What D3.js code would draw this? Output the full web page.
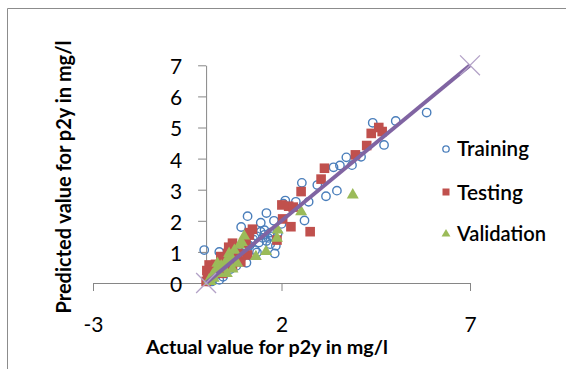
<!DOCTYPE html>
<html>
<head>
<meta charset="utf-8">
<script src="https://cdn.jsdelivr.net/npm/d3@7/dist/d3.min.js"></script>
<style>
  html, body { margin: 0; padding: 0; background: #fff; }
  svg { display: block; }
  text { font-family: Lato, "Open Sans", "Liberation Sans", sans-serif; fill: #000; }
</style>
</head>
<body>
<svg id="chart" width="566" height="369"></svg>
<script>
// Observed vs predicted p2y concentrations (mg/l), per data split
const training = [
  [5.85, 5.48], [5.03, 5.21], [4.42, 5.15], [4.72, 4.44], [4.11, 4.06],
  [3.87, 3.79], [3.72, 4.04], [3.55, 3.78], [3.38, 3.72], [3.47, 2.97],
  [3.18, 2.79], [2.95, 3.15], [2.72, 2.61], [2.54, 3.22], [2.61, 2.01],
  [2.38, 2.61], [2.10, 2.65], [2.05, 2.55], [1.80, 2.00], [1.60, 2.25],
  [1.45, 1.94], [1.10, 2.15], [0.93, 1.80],
  [1.82, 0.95], [1.85, 1.20], [1.75, 1.50], [1.70, 1.62], [1.55, 1.55],
  [1.50, 1.45], [1.45, 1.65], [1.60, 1.35], [1.65, 1.45], [1.40, 1.30],
  [1.55, 1.70], [1.35, 1.50], [1.25, 1.40], [1.20, 1.30], [1.30, 1.05],
  [1.35, 0.98], [1.15, 1.20], [1.05, 1.15], [0.97, 0.85], [1.07, 0.65],
  [0.90, 1.00], [0.85, 1.10], [1.70, 1.25], [1.90, 1.60], [2.00, 1.90],
  [-0.05, 1.06], [0.35, 1.00], [0.40, 0.70], [0.55, 0.62], [0.60, 0.90],
  [0.75, 0.75], [0.50, 0.40], [0.30, 0.30], [0.20, 0.15], [0.10, 0.25],
  [0.05, 0.05], [0.25, 0.50], [0.65, 0.45], [0.80, 0.55], [0.45, 0.20],
  [0.15, 0.05], [0.70, 1.00], [0.35, 0.10]
];
const testing = [
  [4.58, 5.00], [4.38, 4.81], [4.67, 4.87], [4.26, 4.42], [3.96, 4.12],
  [3.14, 3.69], [3.05, 3.34], [2.52, 2.94], [2.01, 2.51], [2.19, 2.47],
  [2.31, 2.44], [2.03, 2.06], [2.25, 1.81], [2.76, 1.65], [1.88, 1.38],
  [1.23, 1.73], [1.14, 1.54], [1.15, 1.62], [0.70, 1.28], [1.06, 1.28],
  [1.10, 0.90], [0.57, 0.95], [0.39, 0.85], [0.08, 0.58], [0.04, 0.20],
  [0.00, 0.05], [0.92, 0.68], [0.43, 0.31], [0.70, 0.52], [0.25, 0.60],
  [0.60, 1.15], [0.85, 0.95], [0.20, 0.35], [0.50, 0.75], [0.02, 0.40]
];
const validation = [
  [3.89, 2.83], [2.52, 2.29], [1.90, 1.70], [1.88, 1.44], [1.59, 1.01],
  [1.32, 0.85], [1.01, 1.51], [0.88, 1.22], [0.83, 0.63], [0.52, 0.68],
  [0.30, 0.63], [0.26, 0.42], [0.17, 0.26], [0.08, 0.10], [0.61, 0.95],
  [0.48, 0.47], [0.75, 1.05], [0.95, 1.30], [0.65, 0.80], [0.40, 0.55],
  [0.35, 0.30], [0.20, 0.15], [0.55, 0.30], [0.70, 0.45], [0.12, 0.05]
];
// 1:1 reference line end points
const idealLine = [[0, 0], [7, 7]];

const xTicks = [-3, 2, 7];
const yTicks = [0, 1, 2, 3, 4, 5, 6, 7];
const seriesNames = ["Training", "Testing", "Validation"];
const xTitle = "Actual value for p2y in mg/l";
const yTitle = "Predicted value for p2y in mg/l";

const svg = d3.select("#chart");
const W = 566, H = 369;
svg.append("rect").attr("width", W).attr("height", H).attr("fill", "#fff");

// outer frame (top and left edges)
svg.append("path")
  .attr("d", "M7.5,369 V8.5 H566")
  .attr("fill", "none").attr("stroke", "#8c8c8c").attr("stroke-width", 1);

const x = d3.scaleLinear().domain([-3, 7]).range([93, 470]);
const y = d3.scaleLinear().domain([0, 7]).range([283, 65.3]);

const axisColor = "#868686";
const plain = d => String(d);

// x axis along y = 0
const gx = svg.append("g").attr("transform", `translate(0,${y(0)})`)
  .call(d3.axisBottom(x).tickValues(xTicks).tickFormat(plain)
    .tickSize(8).tickSizeOuter(0).tickPadding(25));
// y axis along x = 0
const gy = svg.append("g").attr("transform", `translate(${x(0)},0)`)
  .call(d3.axisLeft(y).tickValues(yTicks).tickFormat(plain)
    .tickSize(8).tickSizeOuter(0).tickPadding(16));

[gx, gy].forEach(g => {
  g.select(".domain").attr("stroke", axisColor);
  g.selectAll(".tick line").attr("stroke", axisColor);
  g.selectAll(".tick text")
    .style("font-family", "Lato, 'Open Sans', sans-serif")
    .style("font-size", "21px").attr("fill", "#000");
});
gx.selectAll(".tick text").attr("dy", "0.78em");
gy.selectAll(".tick text").attr("dy", "0.4em");

// data markers
const plot = svg.append("g");
const blue = "#4a7ebb", red = "#c0504d", green = "#9bbb59", purple = "#8064a2";

plot.append("g").selectAll("circle").data(training).join("circle")
  .attr("cx", d => x(d[0])).attr("cy", d => y(d[1])).attr("r", 4.2)
  .attr("fill", "none").attr("stroke", blue).attr("stroke-width", 1.4);

plot.append("g").selectAll("rect").data(testing).join("rect")
  .attr("x", d => x(d[0]) - 4.8).attr("y", d => y(d[1]) - 4.8)
  .attr("width", 9.6).attr("height", 9.6).attr("fill", red);

const tri = d3.symbol().type(d3.symbolTriangle).size(62);
plot.append("g").selectAll("path").data(validation).join("path")
  .attr("d", tri)
  .attr("transform", d => `translate(${x(d[0])},${y(d[1])})`)
  .attr("fill", green);

// 1:1 line with cross markers
plot.append("path")
  .datum(idealLine)
  .attr("d", d3.line().x(d => x(d[0])).y(d => y(d[1])))
  .attr("stroke", purple).attr("stroke-width", 4).attr("fill", "none");
const cross = d3.symbol().type(d3.symbolX).size(260);
plot.append("g").selectAll("path").data(idealLine).join("path")
  .attr("d", cross)
  .attr("transform", d => `translate(${x(d[0])},${y(d[1])})`)
  .attr("fill", "none").attr("stroke", "#b3a2c7").attr("stroke-width", 1.3);

// fit text to a target width
function fit(sel, target, base) {
  sel.style("font-size", base + "px");
  const len = sel.node().getComputedTextLength();
  sel.style("font-size", (base * target / len).toFixed(2) + "px");
}

const xt = svg.append("text").text(xTitle)
  .attr("x", 267).attr("y", 354).attr("text-anchor", "middle")
  .style("font-weight", "bold");
fit(xt, 242, 16);

const yt = svg.append("text").text(yTitle)
  .attr("transform", "translate(71,177) rotate(-90)")
  .attr("text-anchor", "middle").style("font-weight", "bold");
fit(yt, 273, 16);

// legend
const legend = svg.append("g");
const rows = [149, 192, 234];
legend.append("circle").attr("cx", 446).attr("cy", rows[0]).attr("r", 3.2)
  .attr("fill", "none").attr("stroke", blue).attr("stroke-width", 1.3);
legend.append("rect").attr("x", 442.5).attr("y", rows[1] - 3.5)
  .attr("width", 7).attr("height", 7).attr("fill", red);
legend.append("path").attr("d", d3.symbol().type(d3.symbolTriangle).size(34))
  .attr("transform", `translate(446,${rows[2]})`).attr("fill", green);
const widths = [72, 66, 89];
seriesNames.forEach((name, i) => {
  const t = legend.append("text").text(name)
    .attr("x", 457).attr("y", rows[i]).attr("dy", "0.36em")
    .style("font-weight", 600);
  fit(t, widths[i], 18);
});
</script>
</body>
</html>
